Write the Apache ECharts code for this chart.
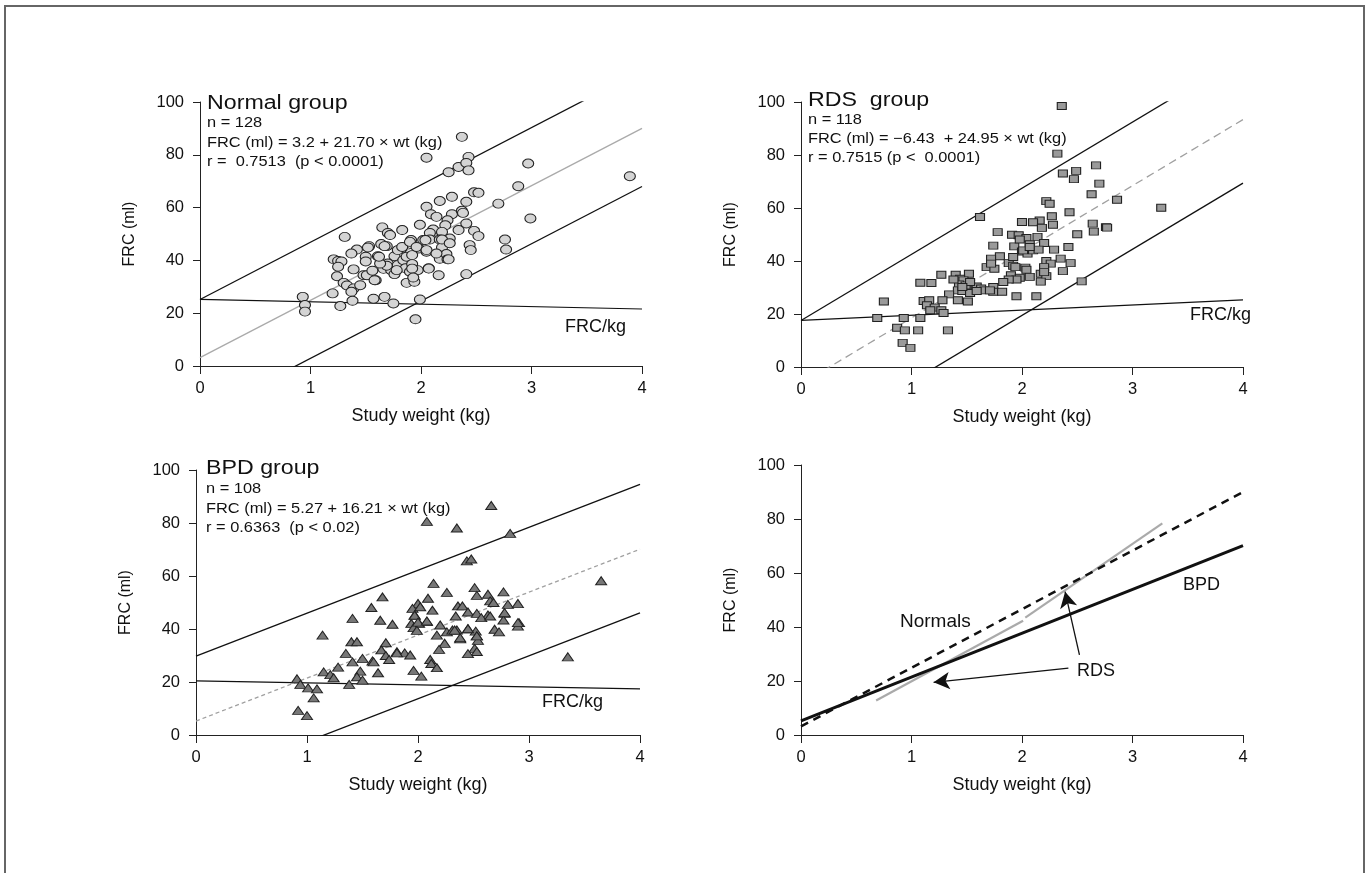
<!DOCTYPE html>
<html><head><meta charset="utf-8">
<script src="https://cdn.jsdelivr.net/npm/echarts@6/dist/echarts.min.js"></script>
<style>html,body{margin:0;padding:0;background:#fff;}#c{width:1366px;height:873px;}</style>
</head><body><div id="c"></div>
<script>
// ---- data ----
const xTicks = [0, 1, 2, 3, 4];
const yTicks = [0, 20, 40, 60, 80, 100];

const normalPts = [
[2.37,86.8],[2.05,78.9],[2.43,79.2],[2.34,75.4],[2.41,76.9],[2.43,74.1],[2.25,73.4],[2.97,76.7],[3.89,71.9],[2.88,68.1],
[2.48,65.8],[2.52,65.6],[2.70,61.5],[2.17,62.5],[2.28,64.1],[2.41,62.2],[2.05,60.3],[2.09,57.5],[2.14,56.5],[2.28,57.5],
[2.37,58.8],[2.38,58.0],[2.24,55.2],[2.22,53.3],[2.41,54.0],[2.99,55.9],[1.99,53.5],[1.65,52.5],[1.70,50.4],[1.72,49.6],
[1.83,51.5],[2.11,51.7],[2.08,50.4],[2.19,50.8],[2.34,51.5],[2.48,51.2],[2.52,49.2],[1.31,48.9],[2.02,47.7],[2.08,47.9],
[2.17,47.9],[2.26,48.3],[1.91,47.7],[2.76,47.9],[1.64,46.2],[1.69,45.4],[1.53,45.4],[1.42,44.1],[1.37,42.6],[1.82,44.4],
[1.91,46.2],[1.98,44.5],[2.05,43.3],[2.19,44.9],[2.44,45.8],[2.45,43.9],[2.77,44.1],[1.76,41.6],[1.61,41.6],[1.50,41.4],
[1.50,39.6],[1.21,40.4],[1.25,39.8],[1.28,39.6],[1.25,37.6],[1.24,34.0],[1.39,36.6],[1.48,34.4],[1.51,34.4],[1.56,36.1],
[1.59,32.5],[1.66,36.8],[1.70,38.8],[1.73,36.3],[1.76,34.8],[1.79,38.2],[1.84,40.1],[1.87,41.4],[1.92,42.0],[1.86,37.0],
[1.90,35.7],[1.92,38.6],[1.97,36.3],[2.07,37.0],[2.16,42.0],[2.17,40.6],[2.23,42.4],[2.24,40.4],[2.16,34.4],[2.41,34.8],
[1.87,31.5],[1.94,31.9],[1.30,31.5],[1.33,30.5],[1.39,29.4],[1.37,28.1],[1.45,30.6],[1.20,27.5],[0.93,26.2],[0.95,23.1],
[0.95,20.6],[1.27,22.7],[1.38,24.7],[1.57,25.5],[1.67,26.2],[1.75,23.7],[1.99,25.2],[1.95,17.7],
[1.79,43.9],[1.83,45.1],[1.90,47.0],[1.96,45.1],[2.04,47.7],[2.05,43.9],[2.19,47.9],[2.26,46.5],[2.14,42.6],[2.25,40.4],
[2.07,36.9],[1.92,36.9],[1.93,33.5],[1.78,36.3],[1.69,38.0],[1.63,38.8],[1.58,32.5],[1.67,45.4],[1.62,41.4],[1.52,44.9]
];

const rdsPts = [
[2.36,98.5],[2.32,80.5],[2.37,73.0],[2.49,74.0],[2.47,70.9],[2.67,76.1],[2.70,69.2],[2.63,65.2],[2.86,63.1],[3.26,60.1],
[2.22,62.6],[2.25,61.6],[2.43,58.4],[2.27,56.9],[1.62,56.6],[2.16,55.3],[2.10,54.6],[2.00,54.7],[2.28,53.7],[2.18,52.5],
[2.64,54.1],[2.65,51.1],[2.76,52.8],[2.77,52.6],[1.78,50.9],[1.91,49.9],[1.97,49.7],[2.04,48.7],[2.14,49.1],[2.50,50.1],
[2.20,46.8],[2.07,46.3],[1.93,45.5],[2.00,43.6],[2.05,42.8],[2.10,44.0],[2.29,44.3],[2.42,45.3],[1.74,45.8],[1.80,41.8],
[1.72,40.9],[1.68,37.7],[1.75,37.1],[1.88,39.2],[1.92,38.2],[2.03,37.5],[2.04,36.7],[2.22,40.0],[2.26,39.0],[2.20,37.7],
[2.44,39.2],[2.37,36.2],[2.17,35.2],[2.22,34.3],[2.07,34.0],[1.90,34.6],[1.98,33.7],[1.95,33.0],[1.88,33.0],[1.83,32.1],
[2.17,32.2],[2.54,32.3],[1.27,34.8],[1.40,34.8],[1.52,35.2],[1.44,33.3],[1.47,32.7],[1.08,31.8],[1.18,31.7],[1.43,31.2],
[1.50,30.2],[1.59,30.4],[1.63,29.6],[1.66,28.9],[1.74,30.2],[1.74,28.4],[1.82,28.4],[1.42,28.9],[1.46,28.7],[1.53,27.9],
[1.34,27.4],[1.95,26.7],[2.13,26.7],[1.28,25.2],[1.42,25.2],[1.51,24.7],[0.75,24.7],[1.11,24.9],[1.16,25.2],[1.14,23.3],
[1.21,22.4],[1.17,21.4],[1.27,21.4],[1.29,20.4],[0.69,18.5],[0.93,18.5],[1.08,18.5],[0.87,14.8],[0.94,13.8],[1.06,13.8],
[1.33,13.8],[0.92,9.1],[0.99,7.2],[1.71,28.9],[1.49,30.8],[2.01,44.0],[2.15,44.3],[1.92,41.5],[1.98,48.1],[1.59,28.7],
[1.53,32.1],[1.38,33.0],[1.46,30.2],[2.07,45.3],[2.35,40.9],[2.20,35.8],[1.94,37.7],[1.72,39.0]
];

const bpdPts = [
[2.66,86.6],[2.08,80.6],[2.35,78.1],[2.83,76.1],[2.44,65.7],[2.48,66.4],[3.65,58.2],[2.14,57.2],[2.26,53.8],[2.51,55.6],
[2.53,52.7],[2.63,53.1],[2.77,54.0],[1.68,52.1],[2.09,51.6],[2.65,50.6],[2.68,50.0],[2.81,49.3],[2.90,49.6],[2.00,49.6],
[1.95,47.8],[1.58,48.1],[2.13,47.1],[2.36,48.7],[2.40,48.7],[2.45,46.4],[2.53,45.9],[2.63,45.3],[2.78,45.9],[1.97,45.3],
[1.41,44.0],[1.66,43.3],[1.77,41.8],[1.94,42.1],[2.01,42.1],[2.08,42.8],[2.20,41.5],[2.34,44.9],[2.57,44.3],[2.77,43.4],
[2.91,42.4],[2.90,41.1],[1.96,40.5],[1.99,39.5],[1.14,37.7],[2.17,37.7],[2.26,38.9],[2.31,39.6],[2.35,39.6],[2.45,40.1],
[2.52,39.2],[2.69,39.9],[2.73,38.9],[2.53,37.4],[2.54,35.7],[2.38,36.3],[2.24,34.6],[2.19,32.3],[2.51,32.7],[2.53,31.5],
[2.45,30.7],[1.40,35.2],[1.45,35.2],[1.71,34.8],[1.67,32.1],[1.71,30.0],[1.74,28.5],[1.81,31.4],[1.88,31.0],[1.93,30.2],
[1.35,30.8],[1.41,27.6],[1.50,28.9],[1.59,27.9],[1.28,25.6],[1.64,23.5],[1.96,24.4],[2.03,22.2],[2.11,28.5],[2.12,27.0],
[2.17,25.4],[1.15,23.8],[1.21,22.8],[1.24,21.6],[1.48,24.1],[1.45,22.0],[1.50,20.7],[1.38,19.1],[0.91,21.2],[0.94,19.1],
[1.01,17.8],[1.09,17.4],[1.06,14.0],[0.92,9.3],[1.00,7.3],[3.35,29.5],[2.02,48.4],
[1.97,45.2],[2.00,42.6],[2.08,43.0],[2.33,39.6],[2.38,36.7],[2.45,40.1],[2.53,37.4],[2.65,44.9],[2.78,46.2],[2.90,42.4],
[1.60,27.6],[1.81,31.0]
];

// regression lines: [intercept, slope]
const normalFit = [3.2, 21.70];
const rdsFit = [-6.43, 24.95];
const bpdFit = [5.27, 16.21];
// prediction band offsets (ml)
const normalBand = 22;
const rdsBand = 24;
const bpdBandUp = 24.5;
const bpdBandLow = 24;
// FRC/kg lines: [value at 0 kg, value at 4 kg]
const normalFrcKg = [25.2, 21.6];
const rdsFrcKg = [17.6, 25.3];
const bpdFrcKg = [20.4, 17.4];
// panel 4 RDS grey line (two segments)
const rdsSeg1 = [[0.68, 12.8], [2.01, 42.3]];
const rdsSeg2 = [[2.03, 43.5], [3.27, 78.4]];
// arrows from the "RDS" label
const arrow1 = [[2.42, 24.8], [1.20, 19.5]];
const arrow2 = [[2.52, 29.7], [2.39, 53.1]];

const titles = ['Normal group', 'RDS  group', 'BPD group'];
const statText = [
  ['n = 128', 'FRC (ml) = 3.2 + 21.70 \u00d7 wt (kg)', 'r =  0.7513  (p < 0.0001)'],
  ['n = 118', 'FRC (ml) = \u22126.43  + 24.95 \u00d7 wt (kg)', 'r = 0.7515 (p <  0.0001)'],
  ['n = 108', 'FRC (ml) = 5.27 + 16.21 \u00d7 wt (kg)', 'r = 0.6363  (p < 0.02)']
];

// ---- build ----
const FONT = '"Liberation Sans", Arial, Helvetica, sans-serif';
function fitLine(c, off) { return [[0, c[0] + off], [4, c[0] + c[1] * 4 + off]]; }
function flat(v) { return [[0, v[0]], [4, v[1]]]; }

const grids = [
  {left: 200, top: 102, width: 442, height: 264},
  {left: 801, top: 102, width: 442, height: 265},
  {left: 196, top: 470, width: 444, height: 265},
  {left: 801, top: 465, width: 442, height: 270}
];

function xAx(i) {
  return {
    gridIndex: i, type: 'value', min: xTicks[0], max: xTicks[xTicks.length - 1], interval: 1,
    name: 'Study weight (kg)', nameLocation: 'middle', nameGap: 41,
    nameTextStyle: {fontFamily: FONT, fontSize: 18, color: '#111', verticalAlign: 'top'},
    axisLine: {lineStyle: {color: '#222', width: 1}},
    axisTick: {show: true, inside: false, length: 8, lineStyle: {color: '#222'}},
    axisLabel: {fontFamily: FONT, fontSize: 16.5, color: '#111', margin: 14},
    splitLine: {show: false}
  };
}
function yAx(i) {
  return {
    gridIndex: i, type: 'value', min: yTicks[0], max: yTicks[yTicks.length - 1], interval: 20,
    name: 'FRC (ml)', nameLocation: 'middle', nameGap: 62, nameRotate: 90,
    nameTextStyle: {fontFamily: FONT, fontSize: 16, color: '#111'},
    axisLine: {show: true, lineStyle: {color: '#222', width: 1}},
    axisTick: {show: true, inside: false, length: 7, lineStyle: {color: '#222'}},
    axisLabel: {fontFamily: FONT, fontSize: 16.5, color: '#111', margin: 16},
    splitLine: {show: false}
  };
}

function lineS(i, data, color, width, type, z) {
  return {type: 'line', xAxisIndex: i, yAxisIndex: i, data: data, symbol: 'none', silent: true,
    clip: true, lineStyle: {color: color, width: width, type: type}, z: z || 2, animation: false};
}
function scatterS(i, data, symbol, size, fill) {
  return {type: 'scatter', xAxisIndex: i, yAxisIndex: i, data: data, symbol: symbol, symbolSize: size,
    itemStyle: {color: fill, borderColor: '#222', borderWidth: 1, opacity: 1}, z: 5, animation: false};
}

const series = [
  // panel 1
  lineS(0, fitLine(normalFit, normalBand), '#111', 1.3, 'solid'),
  lineS(0, fitLine(normalFit, -normalBand), '#111', 1.3, 'solid'),
  lineS(0, fitLine(normalFit, 0), '#aaa', 1.3, 'solid'),
  lineS(0, flat(normalFrcKg), '#111', 1.2, 'solid'),
  scatterS(0, normalPts, 'circle', [11, 9], '#d4d4d4'),
  // panel 2
  lineS(1, fitLine(rdsFit, rdsBand), '#111', 1.3, 'solid'),
  lineS(1, fitLine(rdsFit, -rdsBand), '#111', 1.3, 'solid'),
  lineS(1, fitLine(rdsFit, 0), '#a0a0a0', 1.3, [8, 5]),
  lineS(1, flat(rdsFrcKg), '#111', 1.2, 'solid'),
  scatterS(1, rdsPts, 'rect', [9, 7], '#9a9a9a'),
  // panel 3
  lineS(2, fitLine(bpdFit, bpdBandUp), '#111', 1.3, 'solid'),
  lineS(2, fitLine(bpdFit, -bpdBandLow), '#111', 1.3, 'solid'),
  lineS(2, fitLine(bpdFit, 0), '#a0a0a0', 1.3, [4, 3]),
  lineS(2, flat(bpdFrcKg), '#111', 1.2, 'solid'),
  scatterS(2, bpdPts, 'triangle', [11, 8], '#777'),
  // panel 4
  lineS(3, rdsSeg1, '#aaa', 2.2, 'solid', 3),
  lineS(3, rdsSeg2, '#aaa', 2.2, 'solid', 3),
  lineS(3, fitLine(bpdFit, 0), '#111', 3, 'solid', 4),
  lineS(3, fitLine(normalFit, 0), '#111', 2.5, [8, 6], 4),
  {
    type: 'line', xAxisIndex: 3, yAxisIndex: 3, data: [], symbol: 'none', animation: false,
    markLine: {
      silent: true, symbol: ['none', 'arrow'], symbolSize: [13, 16], animation: false,
      label: {show: false},
      lineStyle: {color: '#111', width: 1.3, type: 'solid'},
      data: [
        [{coord: arrow1[0]}, {coord: arrow1[1]}],
        [{coord: arrow2[0]}, {coord: arrow2[1]}]
      ]
    }
  }
];

function txt(x, y, s, size, sx) {
  return {type: 'text', x: x, y: y, scaleX: sx || 1, silent: true, z: 10,
    style: {x: 0, y: 0, text: s, font: size + 'px ' + FONT, fill: '#111', align: 'left', verticalAlign: 'middle'}};
}
const graphics = [
  {type: 'rect', shape: {x: 5, y: 6, width: 1359, height: 880}, style: {fill: 'none', stroke: '#666', lineWidth: 2}, silent: true}
];
// [left, title centre, n centre, eq centre, r centre]
const textPos = [[207, 103, 123, 142.5, 161.5], [808, 100, 120, 139, 157.5], [206, 468, 488.5, 509, 528]];
for (let k = 0; k < 3; k++) {
  const p = textPos[k];
  graphics.push(txt(p[0], p[1], titles[k], 20, 1.16));
  for (let j = 0; j < 3; j++) graphics.push(txt(p[0], p[2 + j], statText[k][j], 14.5, 1.13));
}
graphics.push(txt(565, 327.5, 'FRC/kg', 18));
graphics.push(txt(1190, 315.5, 'FRC/kg', 18));
graphics.push(txt(542, 702.5, 'FRC/kg', 18));
graphics.push(txt(900, 621.5, 'Normals', 19));
graphics.push(txt(1183, 585, 'BPD', 18));
graphics.push(txt(1077, 671.5, 'RDS', 18));

const chart = echarts.init(document.getElementById('c'), null, {renderer: 'canvas'});
chart.setOption({
  animation: false,
  backgroundColor: '#fff',
  grid: grids,
  xAxis: [xAx(0), xAx(1), xAx(2), xAx(3)],
  yAxis: [yAx(0), yAx(1), yAx(2), yAx(3)],
  series: series,
  graphic: graphics
});
</script>
</body></html>
